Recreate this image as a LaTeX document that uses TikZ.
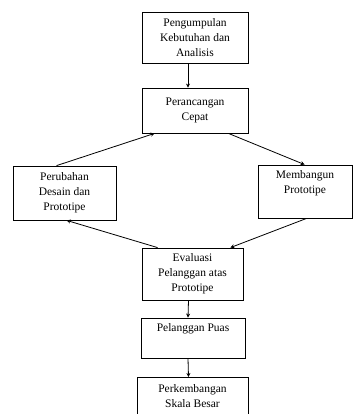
\documentclass[tikz,border=0pt]{standalone}
\usepackage{fontspec}
\setmainfont{Liberation Serif}
\usetikzlibrary{arrows.meta}
\begin{document}
\begin{tikzpicture}[x=1pt,y=-1pt,
    kotak/.style={draw, line width=0.8pt, inner sep=0pt, align=center,
      font=\fontsize{11.5}{15}\selectfont},
    panah/.style={-{Stealth[length=4pt,width=4pt]}, line width=0.8pt}]
                  \useasboundingbox (0,0) rectangle (353,414);
                  \node[kotak, minimum width=106, minimum height=51] (analisis) at (195,37.5) {Pengumpulan\\Kebutuhan dan\\Analisis};
                  \node[kotak, minimum width=106, minimum height=45] (cepat) at (195,110.5) {Perancangan\\Cepat};
                  \node[kotak, minimum width=103, minimum height=54] (perubahan) at (64.5,193) {Perubahan\\Desain dan\\Prototipe};
                  \node[kotak, minimum width=94, minimum height=53] (membangun) at (305,191.5) {Membangun\\Prototipe\\[4pt]};
                  \node[kotak, minimum width=101, minimum height=52] (evaluasi) at (192.5,274) {Evaluasi\\Pelanggan atas\\Prototipe};
                  \node[kotak, minimum width=104, minimum height=40] (puas) at (193,338) {Pelanggan Puas\\[6pt]};
                  \node[kotak, minimum width=111, minimum height=38, anchor=north] (skala) at (192.5,377) {Perkembangan\\Skala Besar};
                  \draw[panah] ([xshift=-7]analisis.south) -- ([xshift=-7]cepat.north);
                  \draw[panah] ([xshift=44]perubahan.north west) -- ([xshift=13]cepat.south west);
                  \draw[panah] ([xshift=-20]cepat.south east) -- ([xshift=47]membangun.north west);
                  \draw[panah] ([xshift=49]membangun.south west) -- ([xshift=-13]evaluasi.north east);
                  \draw[panah] ([xshift=16]evaluasi.north west) -- ([xshift=54]perubahan.south west);
                  \draw[panah] ([xshift=-4]evaluasi.south) -- ([xshift=-5]puas.north);
                  \draw[panah] ([xshift=-5]puas.south) -- ([xshift=-4]skala.north);
                \end{tikzpicture}
\end{document}
